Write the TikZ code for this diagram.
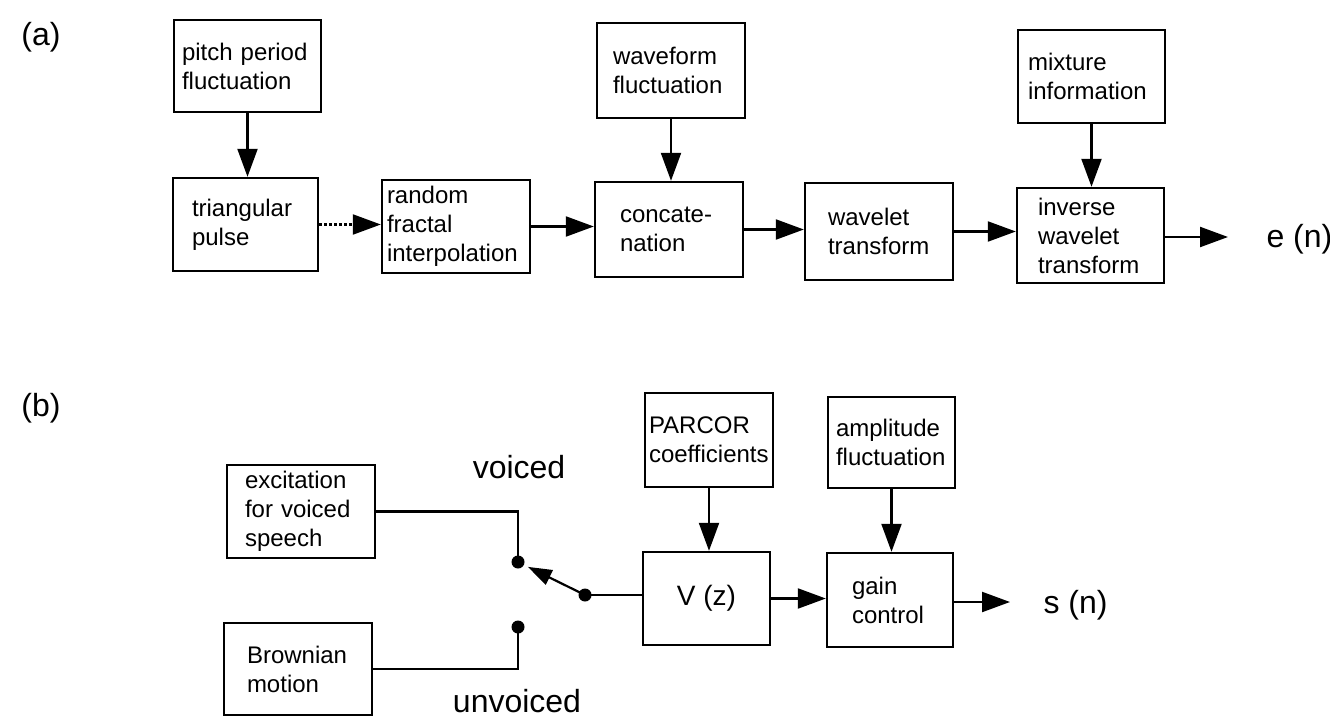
\documentclass[tikz,border=0pt]{standalone}
\usepackage{fontspec}
\setmainfont{Liberation Sans}
\usetikzlibrary{arrows.meta}
\begin{document}
\begin{tikzpicture}[x=1pt,y=-1pt,
  blk/.style={draw, line width=2.4pt, align=left, font=\fontsize{24}{29}\selectfont, inner ysep=0pt},
  con/.style={line width=2.2pt, -{Triangle[length=28pt,width=20pt]}},
  sw/.style={line width=2.2pt, -{Triangle[length=24pt,width=16pt]}},
  wire/.style={line width=2.2pt},
  dot/.style={circle, fill, inner sep=0pt, minimum size=13pt},
  lbl/.style={font=\fontsize{32}{36}\selectfont},
  tag/.style={font=\fontsize{32}{36}\selectfont}]
\useasboundingbox (0,0) rectangle (1330,719);

% panel labels
\node[tag] (ta) at (41,37) {(a)};
\node[tag] (tb) at (41,408) {(b)};

% ---- panel (a)
\node[blk, minimum width=147pt, minimum height=92pt, text width=131pt, inner xsep=8pt] (pitch) at (247.5,66) {pitch period\\fluctuation};
\node[blk, minimum width=145pt, minimum height=93pt, text width=107pt, inner xsep=19pt] (tri) at (245.5,224.5) {triangular\\pulse};
\node[blk, minimum width=148pt, minimum height=93pt, text width=138pt, inner xsep=5pt] (rand) at (456,226.5) {random\\fractal\\interpolation};
\node[blk, minimum width=148pt, minimum height=95pt, text width=116pt, inner xsep=16pt] (wfl) at (671,70.5) {waveform\\fluctuation};
\node[blk, minimum width=148pt, minimum height=95pt, text width=98pt, inner xsep=25pt] (conc) at (669,229.5) {concate-\\nation};
\node[blk, minimum width=148pt, minimum height=97pt, text width=102pt, inner xsep=23pt] (wav) at (879,231.5) {wavelet\\transform};
\node[blk, minimum width=147pt, minimum height=93pt, text width=127pt, inner xsep=10pt] (mix) at (1091.5,76.5) {mixture\\information};
\node[blk, minimum width=147pt, minimum height=95pt, text width=105pt, inner xsep=21pt] (inv) at (1090.5,235.5) {inverse\\wavelet\\transform};
\coordinate (eout) at (1228,237);
\node[lbl, anchor=base west] (en) at (1263,248) {e (n)};

\draw[con] (pitch.south) -- (pitch.south |- tri.north);
\draw[con, dash pattern=on 3pt off 2pt] (tri.east) -- (tri.east -| rand.west);
\draw[con] (rand.east) -- (rand.east -| conc.west);
\draw[con] (wfl.south) -- (wfl.south |- conc.north);
\draw[con] (conc.east) -- (conc.east -| wav.west);
\draw[con] (wav.east) -- (wav.east -| inv.west);
\draw[con] (mix.south) -- (mix.south |- inv.north);
\draw[con] (inv.east |- eout) -- (eout);

% ---- panel (b)
\node[blk, minimum width=148pt, minimum height=93pt, text width=112pt, inner xsep=18pt] (exc) at (301,511.5) {excitation\\for voiced\\speech};
\node[blk, minimum width=148pt, minimum height=92pt, text width=102pt, inner xsep=23pt] (brown) at (298,669) {Brownian\\motion};
\node[lbl, anchor=base] (voiced) at (519,478) {voiced};
\node[lbl, anchor=base] (unvoiced) at (517,712) {unvoiced};
\node[dot] (c1) at (518,562) {};
\node[dot] (c2) at (518,627) {};
\node[dot] (piv) at (585,595) {};
\node[blk, font=\fontsize{28}{32}\selectfont, align=center, minimum width=127pt, minimum height=93pt] (vz) at (706.5,598.5) {V (z)};
\node[blk, minimum width=128pt, minimum height=94pt, text width=120pt, inner xsep=4pt] (parc) at (709,440) {PARCOR\\coefficients};
\node[blk, minimum width=127pt, minimum height=91pt, text width=111pt, inner xsep=8pt] (ampl) at (891.5,442.5) {amplitude\\fluctuation};
\node[blk, minimum width=126pt, minimum height=94pt, text width=76pt, inner xsep=25pt] (gain) at (890,600) {gain\\control};
\coordinate (sout) at (1010,602);
\node[lbl, anchor=base west] (sn) at (1040,613) {s (n)};

\draw[wire] (exc.east) -| (c1.center);
\draw[wire] (brown.east) -| (c2.center);
\draw[sw, shorten >=11pt] (piv.center) -- (c1.center);
\draw[wire] (piv.center) -- (piv.center -| vz.west);
\draw[con] (parc.south) -- (parc.south |- vz.north);
\draw[con] (ampl.south) -- (ampl.south |- gain.north);
\draw[con] (vz.east) -- (vz.east -| gain.west);
\draw[con] (gain.east |- sout) -- (sout);
\end{tikzpicture}
\end{document}
